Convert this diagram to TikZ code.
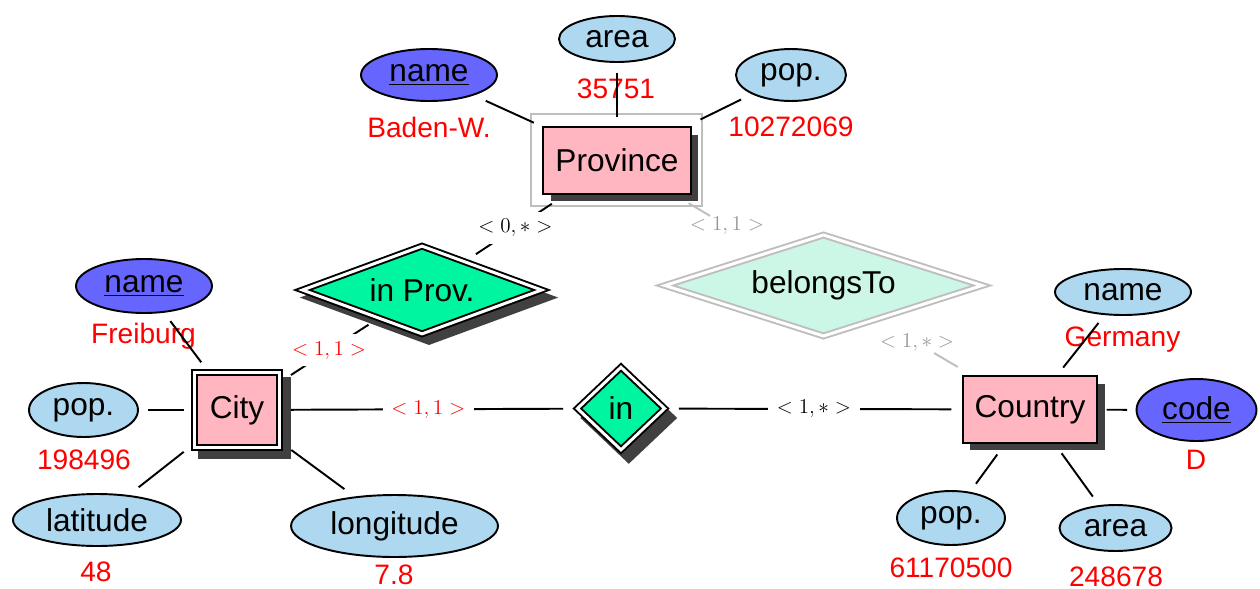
\documentclass[tikz,border=0pt]{standalone}
\usepackage{fontspec}
\setmainfont{Liberation Sans}
\usetikzlibrary{shapes.geometric,shadows}
\definecolor{entpink}{RGB}{255,182,193}
\definecolor{attblue}{RGB}{173,216,240}
\definecolor{keyblue}{RGB}{102,102,255}
\definecolor{relgreen}{RGB}{0,245,160}
\definecolor{relpale}{RGB}{204,247,230}
\definecolor{framegray}{RGB}{190,190,190}
\definecolor{cardgray}{RGB}{150,150,150}
\definecolor{shadowc}{RGB}{64,64,64}
\tikzset{
  bigfont/.style={font=\fontsize{18}{21}\selectfont},
  entity/.style={rectangle, draw, line width=1.1pt, fill=entpink, inner sep=0pt, bigfont,
    drop shadow={shadow xshift=0.15cm, shadow yshift=-0.15cm, fill=shadowc, opacity=1}},
  weakentity/.style={rectangle, draw, line width=1.1pt, double, double distance=1.7pt, fill=entpink, inner sep=0pt, bigfont,
    drop shadow={shadow scale=1.09, shadow xshift=0.14cm, shadow yshift=-0.14cm, fill=shadowc, opacity=1}},
  attr/.style={ellipse, draw, line width=1.1pt, fill=attblue, inner sep=0pt, bigfont},
  keyattr/.style={attr, fill=keyblue},
  rel/.style={diamond, draw, line width=1.1pt, double, double distance=1.7pt, fill=relgreen, inner sep=0pt, bigfont},
  relpale/.style={diamond, draw=framegray, line width=1.1pt, double, double distance=1.7pt, fill=relpale, inner sep=0pt, bigfont},
  val/.style={text=red, font=\fontsize{16}{19}\selectfont, inner sep=0pt},
  card/.style={font=\fontsize{12}{14}\selectfont, fill=white, inner xsep=5pt, inner ysep=4pt},
  graycard/.style={font=\fontsize{12}{14}\selectfont, text=cardgray, inner sep=0.5pt},
  link/.style={draw, line width=1.1pt},
  graylink/.style={draw=framegray, line width=1.1pt},
}
\begin{document}
\begin{tikzpicture}[x=0.02cm, y=-0.02cm]
\useasboundingbox (0,0) rectangle (1260,588);

% frame round Province
\draw[framegray, line width=1.1pt] (531,114) rectangle (702,206);

% entities
\node[entity, minimum width=2.96cm, minimum height=1.34cm] (prov) at (617,160.5) {Province};
\node[weakentity, minimum width=1.7cm, minimum height=1.5cm] (city) at (237,410) {City};
\node[entity, minimum width=2.686cm, minimum height=1.34cm] (country) at (1030,409.5) {Country};

% relationships
\node[rel, shape aspect=2.7, minimum width=4.8cm, minimum height=1.772cm,
  drop shadow={shadow scale=1.08, shadow xshift=0.13cm, shadow yshift=-0.14cm, fill=shadowc, opacity=1}] (inprov) at (422,290) {in Prov.};
\node[rel, shape aspect=1.05, minimum width=1.76cm, minimum height=1.668cm,
  drop shadow={shadow scale=1.11, shadow xshift=0.14cm, shadow yshift=-0.17cm, fill=shadowc, opacity=1}] (in) at (621,408.5) {in};
\node[relpale, shape aspect=3.1, minimum width=6.36cm, minimum height=2.036cm] (belongs) at (823.5,285.5) {belongsTo};

% attributes
\node[keyattr, minimum width=2.72cm, minimum height=1.04cm] (pname) at (429,75) {\underline{name}};
\node[attr, minimum width=2.32cm, minimum height=0.92cm] (parea) at (617,39) {area};
\node[attr, minimum width=2.2cm, minimum height=1.04cm] (ppop) at (791,75) {pop.};
\node[keyattr, minimum width=2.72cm, minimum height=1.08cm] (cname) at (144,286) {\underline{name}};
\node[attr, minimum width=2.18cm, minimum height=1.08cm] (cpop) at (83.5,410) {pop.};
\node[attr, minimum width=3.36cm, minimum height=1.04cm] (lat) at (97,520) {latitude};
\node[attr, minimum width=4.14cm, minimum height=1.24cm] (lon) at (394.5,526) {longitude};
\node[attr, minimum width=2.72cm, minimum height=0.92cm] (coname) at (1123,292) {name};
\node[keyattr, minimum width=2.4cm, minimum height=1.24cm] (code) at (1196.5,410) {\underline{code}};
\node[attr, minimum width=2.16cm, minimum height=1.08cm] (copop) at (951,518) {pop.};
\node[attr, minimum width=2.24cm, minimum height=0.92cm] (coarea) at (1115.5,528) {area};

% values
\node[val] (vpname) at (429,127) {Baden-W.};
\node[val] (vparea) at (616,89) {35751};
\node[val] (vppop) at (791,127) {10272069};
\node[val] (vcname) at (143.5,336) {Freiburg};
\node[val] (vcpop) at (84,460) {198496};
\node[val] (vlat) at (96,572) {48};
\node[val] (vlon) at (394,575) {7.8};
\node[val] (vconame) at (1122.5,340) {Germany};
\node[val] (vcode) at (1196,460) {D};
\node[val] (vcopop) at (951,568) {61170500};
\node[val] (vcoarea) at (1116,577) {248678};

% gray cardinality labels
\node[graycard] (g11) at (727,226) {$<1,1>$};
\node[graycard] (g1s) at (917,343) {$<1,*>$};

% attribute links
\draw[link, shorten <=0.18cm, shorten >=0.26cm] (prov) -- (pname);
\draw[link, shorten <=0.18cm, shorten >=0.2cm] (prov) -- (parea);
\draw[link, shorten <=0.3cm, shorten >=0.24cm] (prov) -- (ppop);
\draw[link, shorten <=0.23cm, shorten >=0.21cm] (city) -- (cname);
\draw[link, shorten <=0.19cm, shorten >=0.18cm] (city) -- (cpop);
\draw[link, shorten <=0.25cm, shorten >=0.25cm] (city) -- (lat);
\draw[link, shorten <=0.27cm, shorten >=0.25cm] (city) -- (lon);
\draw[link, shorten <=0.19cm, shorten >=0.2cm] (country) -- (coname);
\draw[link, shorten <=0.17cm, shorten >=0.17cm] (country) -- (code);
\draw[link, shorten <=0.26cm, shorten >=0.2cm] (country) -- (copop);
\draw[link, shorten <=0.23cm, shorten >=0.21cm] (country) -- (coarea);

% relationship links
\draw[link, shorten <=0.32cm, shorten >=0.25cm] (prov) -- node[card] {$<0,*>$} (inprov);
\draw[link, shorten <=0.25cm, shorten >=0.22cm] (city) -- node[card, text=red] {$<1,1>$} (inprov);
\draw[link, shorten <=0.21cm, shorten >=0.26cm] (city) -- node[card, text=red] {$<1,1>$} (in);
\draw[link, shorten <=0.26cm, shorten >=0.21cm] (in) -- node[card] {$<1,*>$} (country);
\draw[graylink, shorten <=0.32cm] (prov) -- (g11);
\draw[graylink, shorten <=0.32cm] (country) -- (g1s);
\end{tikzpicture}
\end{document}
